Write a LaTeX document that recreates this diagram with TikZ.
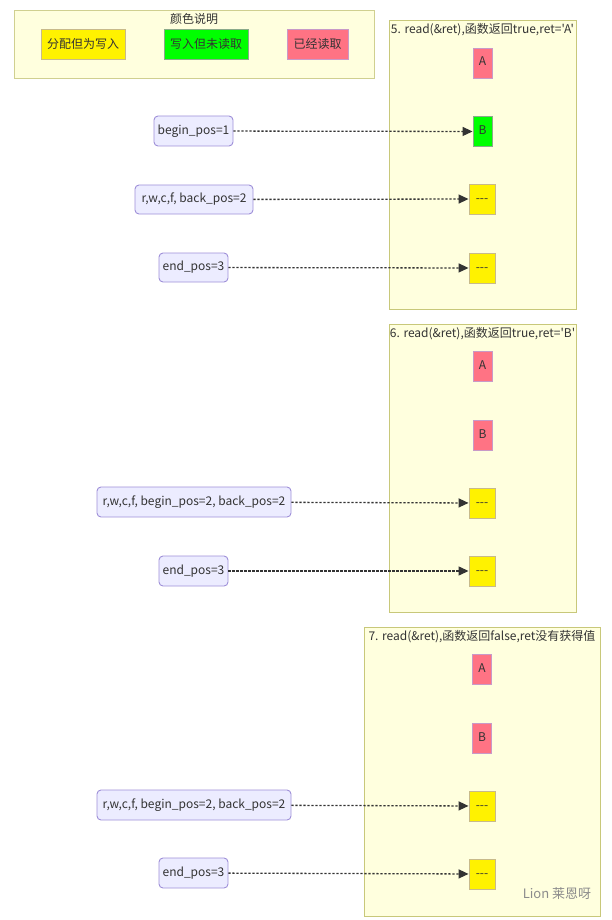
\documentclass[tikz,border=0pt]{standalone}
\usepackage{fontspec}
\newfontfamily\cjk{Noto Sans CJK SC}
\usetikzlibrary{arrows.meta}
\definecolor{panelfill}{HTML}{FFFFDE}
\definecolor{panelline}{HTML}{C8C87A}
\definecolor{legline}{HTML}{D0D090}
\definecolor{nodefill}{HTML}{ECECFF}
\definecolor{nodeline}{HTML}{9E8FD8}
\definecolor{cellred}{HTML}{FF7384}
\definecolor{redline}{HTML}{C89AC8}
\definecolor{yelline}{HTML}{C8BA8A}
\definecolor{greline}{HTML}{8AAA8A}
\definecolor{arrowc}{HTML}{333333}
\tikzset{
  txt/.style={font=\cjk\fontsize{12}{14}\selectfont, text=black!80, inner sep=0pt},
  panel/.style={draw=panelline, fill=panelfill, line width=0.9pt},
  leftnode/.style={txt, draw=nodeline, fill=nodefill, rounded corners=4pt, line width=0.9pt},
  cell/.style={txt, minimum height=30pt, line width=0.9pt, text height=8.5pt, text depth=2.5pt},
  redcell/.style={cell, draw=redline, fill=cellred, minimum width=19pt},
  grecell/.style={cell, draw=greline, fill=green, minimum width=19pt},
  yelcell/.style={cell, draw=yelline, fill=yellow, minimum width=26pt},
  link/.style={draw=arrowc, line width=1.3pt, dash pattern=on 2.2pt off 1.8pt, -{Triangle[length=10pt,width=9pt]}},
}
\begin{document}
\begin{tikzpicture}[x=1pt,y=-1pt]
\useasboundingbox (0,0) rectangle (611,920);
% legend
\draw[panel, draw=legline] (14,10) rectangle (374,78);
\node[txt] (legtitle) at (194,19) {颜色说明};
\node[txt, draw=yelline, fill=yellow, minimum width=84pt, minimum height=30pt, line width=0.9pt] (leg1) at (83,44) {分配但为写入};
\node[txt, draw=greline, fill=green, minimum width=84pt, minimum height=30pt, line width=0.9pt] (leg2) at (206,44) {写入但未读取};
\node[txt, draw=redline, fill=cellred, minimum width=61pt, minimum height=30pt, line width=0.9pt] (leg3) at (317.5,44) {已经读取};

% panel 5
\draw[panel] (389,20) rectangle (576,309);
\node[txt] (t5) at (482.5,30) {5. read(\&ret),函数返回true,ret='A'};
\node[redcell] (a5) at (482.5,63) {A};
\node[grecell] (b5) at (482.5,131.5) {B};
\node[yelcell] (c5) at (482,199) {---};
\node[yelcell] (d5) at (482,268) {---};
\node[leftnode, minimum width=79pt, minimum height=30pt] (l51) at (193.5,131) {begin\_pos=1};
\node[leftnode, minimum width=118pt, minimum height=29pt] (l52) at (194,199.5) {r,w,c,f, back\_pos=2};
\node[leftnode, minimum width=69pt, minimum height=29pt] (l53) at (193.5,267.5) {end\_pos=3};
\draw[link] (l51) -- (b5);
\draw[link] (l52) -- (c5);
\draw[link] (l53) -- (d5);

% panel 6
\draw[panel] (389,324) rectangle (576,612);
\node[txt] (t6) at (482.5,334) {6. read(\&ret),函数返回true,ret='B'};
\node[redcell] (a6) at (482.5,366) {A};
\node[redcell] (b6) at (482.5,435) {B};
\node[yelcell] (c6) at (482,503) {---};
\node[yelcell] (d6) at (482,571) {---};
\node[leftnode, minimum width=194pt, minimum height=30pt] (l61) at (194,502) {r,w,c,f, begin\_pos=2, back\_pos=2};
\node[leftnode, minimum width=69pt, minimum height=30pt] (l62) at (193.5,571) {end\_pos=3};
\draw[link] (l61) -- (c6);
\draw[link] (l62) -- (d6);

% panel 7
\draw[panel] (364,627) rectangle (600,916);
\node[txt] (t7) at (482,637) {7. read(\&ret),函数返回false,ret没有获得值};
\node[redcell] (a7) at (482,669) {A};
\node[redcell] (b7) at (482,738) {B};
\node[yelcell] (c7) at (482,806) {---};
\node[yelcell] (d7) at (482,874) {---};
\node[leftnode, minimum width=194pt, minimum height=30pt] (l71) at (194,805) {r,w,c,f, begin\_pos=2, back\_pos=2};
\node[leftnode, minimum width=69pt, minimum height=30pt] (l72) at (193.5,873) {end\_pos=3};
\draw[link] (l71) -- (c7);
\draw[link] (l72) -- (d7);

% watermark
\node[txt, text=black!45, font=\cjk\fontsize{13}{15}\selectfont] (wm) at (557,894) {Lion 莱恩呀};
\end{tikzpicture}
\end{document}
